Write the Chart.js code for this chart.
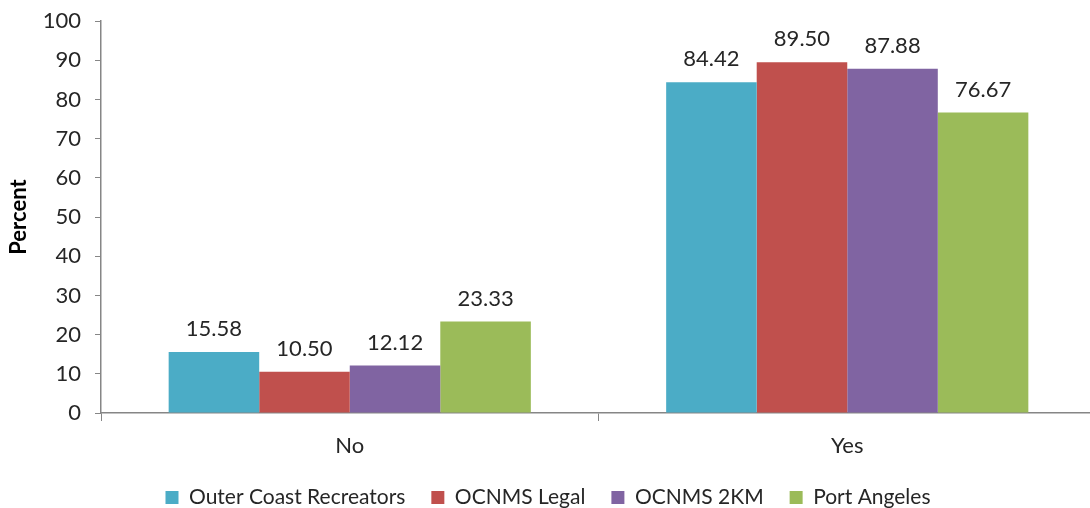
<!DOCTYPE html>
<html>
<head>
<meta charset="utf-8">
<script src="https://cdn.jsdelivr.net/npm/chart.js@4/dist/chart.umd.min.js"></script>
<style>
  html, body { margin: 0; padding: 0; background: #fff; overflow: hidden; }
  #wrap { width: 1096px; height: 524px; margin-top: -6px; position: relative; }
</style>
</head>
<body>
<div id="wrap"><canvas id="c"></canvas></div>
<script>
// Survey response shares by group
const categories = ['No', 'Yes'];
const seriesNames = ['Outer Coast Recreators', 'OCNMS Legal', 'OCNMS 2KM', 'Port Angeles'];
const outerCoast = [15.58, 84.42];
const ocnmsLegal = [10.50, 89.50];
const ocnms2km = [12.12, 87.88];
const portAngeles = [23.33, 76.67];
const yTicks = [0, 10, 20, 30, 40, 50, 60, 70, 80, 90, 100];

const colors = ['#4BACC6', '#C0504D', '#8064A2', '#9BBB59'];
const FONT = 'Lato, "Open Sans", sans-serif';
const TEXT = '#262626';
const AXIS = '#868686';

// Value labels above each bar
const valueLabels = {
  id: 'valueLabels',
  afterDatasetsDraw(chart) {
    const ctx = chart.ctx;
    ctx.save();
    ctx.font = '22px ' + FONT;
    ctx.fillStyle = TEXT;
    ctx.textAlign = 'center';
    ctx.textBaseline = 'bottom';
    chart.data.datasets.forEach((ds, i) => {
      chart.getDatasetMeta(i).data.forEach((bar, j) => {
        ctx.fillText(ds.data[j].toFixed(2), bar.x, bar.y - 12);
      });
    });
    ctx.restore();
  }
};

new Chart(document.getElementById('c'), {
  type: 'bar',
  data: {
    labels: categories,
    datasets: [outerCoast, ocnmsLegal, ocnms2km, portAngeles].map((d, i) => ({
      label: seriesNames[i],
      data: d,
      backgroundColor: colors[i],
      borderWidth: 0,
      categoryPercentage: 0.728,
      barPercentage: 1.0
    }))
  },
  options: {
    responsive: true,
    maintainAspectRatio: false,
    animation: false,
    layout: { padding: { top: 16, left: 0, right: 0, bottom: 0 } },
    plugins: {
      tooltip: { enabled: false },
      legend: {
        position: 'bottom',
        labels: {
          font: { family: FONT, size: 21 },
          color: TEXT,
          boxWidth: 13,
          boxHeight: 13,
          padding: 26,
          useBorderRadius: false
        }
      }
    },
    scales: {
      x: {
        grid: {
          offset: true,
          drawOnChartArea: false,
          drawTicks: true,
          tickLength: 8,
          color: AXIS
        },
        border: { color: AXIS, width: 1.5 },
        ticks: {
          font: { family: FONT, size: 22 },
          color: TEXT,
          padding: 12
        },
        afterFit(scale) { scale.height = 48; }
      },
      y: {
        min: 0,
        max: 100,
        afterBuildTicks(scale) { scale.ticks = yTicks.map(v => ({ value: v })); },
        grid: {
          drawOnChartArea: false,
          drawTicks: true,
          tickLength: 6,
          color: AXIS
        },
        border: { color: AXIS, width: 1.5 },
        ticks: {
          font: { family: FONT, size: 22 },
          color: TEXT,
          padding: 14
        },
        title: {
          display: true,
          text: 'Percent',
          font: { family: FONT, size: 22, weight: 'bold' },
          color: '#000',
          padding: { top: 6, bottom: 0 }
        },
        afterFit(scale) { scale.width = 101; }
      }
    }
  },
  plugins: [valueLabels]
});
</script>
</body>
</html>
